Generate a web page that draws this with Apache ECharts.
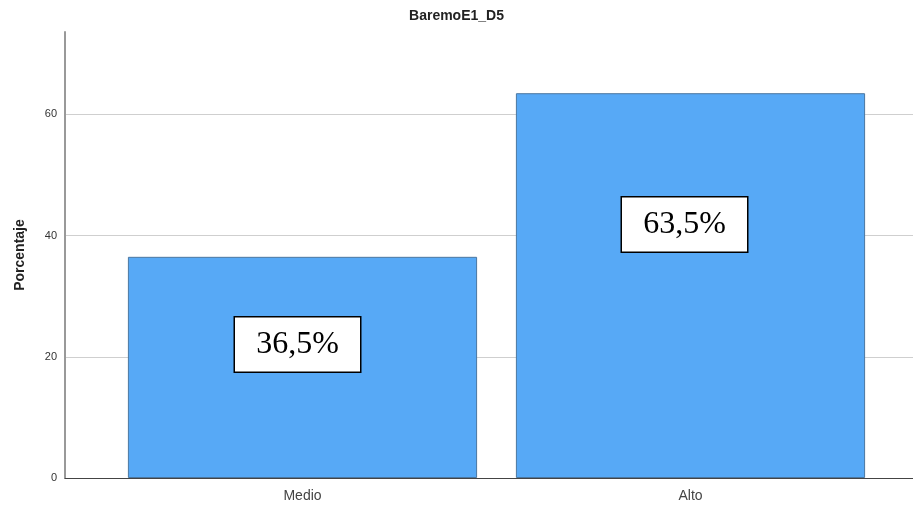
<!DOCTYPE html>
<html>
<head>
<meta charset="utf-8">
<script src="https://cdn.jsdelivr.net/npm/echarts@6/dist/echarts.min.js"></script>
<style>html,body{margin:0;padding:0;background:#fff}#c{width:913px;height:508px}</style>
</head>
<body>
<div id="c"></div>
<script>
var categories = ['Medio', 'Alto'];
var values = [36.5, 63.5];
var labelTexts = ['36,5%', '63,5%'];
var yTicks = [0, 20, 40, 60];

var chart = echarts.init(document.getElementById('c'));
var yMax = 73.6;
var labelOffsets = [[-5, -23], [-6, -61]];
chart.setOption({
  animation: false,
  title: {
    text: 'BaremoE1_D5', left: 'center', top: 4,
    textStyle: {fontFamily: 'Liberation Sans', fontSize: 14, fontWeight: 'bold', color: '#222'}
  },
  grid: [
    {left: 65, right: 0, top: 32, bottom: 30},
    {left: 108.5, right: 28.5, top: 32, bottom: 30}
  ],
  xAxis: [
    {type: 'category', gridIndex: 0, data: categories, axisLabel: {show: false}, axisTick: {show: false},
     axisLine: {lineStyle: {color: '#444', width: 1}}},
    {type: 'category', gridIndex: 1, data: categories, axisTick: {show: false}, axisLine: {show: false},
     axisLabel: {fontFamily: 'Liberation Sans', fontSize: 14, color: '#444', margin: 11}}
  ],
  yAxis: [
    {type: 'value', gridIndex: 0, min: 0, max: yMax, interval: 20,
     name: 'Porcentaje', nameLocation: 'middle', nameGap: 38, nameRotate: 90,
     nameTextStyle: {fontFamily: 'Liberation Sans', fontSize: 14, fontWeight: 'bold', color: '#222'},
     axisLine: {show: true, lineStyle: {color: '#999', width: 2}},
     axisTick: {show: false},
     axisLabel: {fontFamily: 'Liberation Sans', fontSize: 11, color: '#333', margin: 8,
       formatter: function (v) { return yTicks.indexOf(v) >= 0 ? String(v) : ''; }},
     splitLine: {show: true, showMinLine: false, showMaxLine: false, lineStyle: {color: '#cfcfcf', width: 1}}},
    {type: 'value', gridIndex: 1, min: 0, max: yMax, interval: 20, show: false, splitLine: {show: false}}
  ],
  series: [{
    type: 'bar', xAxisIndex: 1, yAxisIndex: 1,
    barCategoryGap: '10%',
    data: values.map(function (v, i) {
      return {value: v, label: {offset: labelOffsets[i]}};
    }),
    itemStyle: {color: '#57a9f6', borderColor: '#4b77a0', borderWidth: 1},
    label: {
      show: true, position: 'inside',
      formatter: function (p) { return labelTexts[p.dataIndex]; },
      fontFamily: 'Liberation Serif', fontSize: 32, color: '#000',
      backgroundColor: '#fff', borderColor: '#000', borderWidth: 1.5,
      padding: [12, 12, 10, 12], width: 101, align: 'center'
    }
  }]
});
</script>
</body>
</html>
